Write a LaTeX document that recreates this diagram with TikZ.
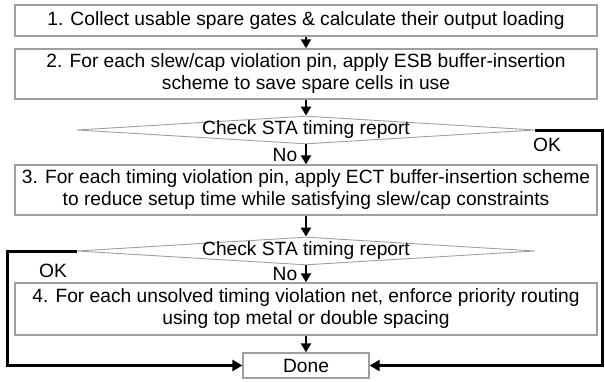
\documentclass[tikz,border=0pt]{standalone}
\usepackage{fontspec}
\setmainfont{Liberation Sans}
\usetikzlibrary{positioning,arrows.meta,shapes.geometric,calc}

\begin{document}
\begin{tikzpicture}[x=1pt, y=-1pt,
  stepbox/.style={draw=gray!75, line width=1.3pt, minimum width=582pt,
                  inner sep=0pt, align=center, font=\fontsize{19.2}{22}\selectfont},
  check/.style={draw=gray!75, line width=0.9pt, diamond, inner sep=0pt,
                minimum width=458pt, minimum height=28pt,
                label={[font=\fontsize{19.2}{22}\selectfont, inner sep=0pt]center:#1}},
  lab/.style={font=\fontsize{19.2}{22}\selectfont, inner sep=0pt},
  arr/.style={-{Triangle[length=9pt, width=10pt]}, line width=2.2pt},
  back/.style={-{Triangle[length=10pt, width=11pt]}, line width=3pt},
]
\useasboundingbox (0,0) rectangle (605,381);
\coordinate (axis) at (306,0);

% main steps
\node[stepbox, minimum height=31pt] (s1) at (306,20.5)
  {1. Collect usable spare gates \& calculate their output loading};
\node[stepbox, minimum height=50pt] (s2) at (306,74)
  {2. For each slew/cap violation pin, apply ESB buffer-insertion\\
   scheme to save spare cells in use};
\node[check={Check STA timing report}] (c1) at (306,130) {};
\node[stepbox, minimum height=50pt] (s3) at (306,190)
  {3. For each timing violation pin, apply ECT buffer-insertion scheme\\
   to reduce setup time while satisfying slew/cap constraints};
\node[check={Check STA timing report}] (c2) at (306,251) {};
\node[stepbox, minimum height=52pt] (s4) at (306,309)
  {4. For each unsolved timing violation net, enforce priority routing\\
   using top metal or double spacing};
\node[stepbox, minimum width=126pt, minimum height=25pt] (done) at (306,365.5) {Done};

% labels on the branches
\node[lab] (no1) at (285,155) {No};
\node[lab] (no2) at (285,274) {No};
\node[lab] (ok1) at (547,145) {OK};
\node[lab] (ok2) at (53,271) {OK};

% flow
\draw[arr] (axis |- s1.south) -- (axis |- s2.north);
\draw[arr] (axis |- s2.south) -- (c1.north);
\draw[arr] (c1.south) -- (axis |- s3.north);
\draw[arr] (axis |- s3.south) -- (c2.north);
\draw[arr] (c2.south) -- (axis |- s4.north);
\draw[arr] (axis |- s4.south) -- (done.north);

% OK branches to Done
\coordinate (rside) at (602,0);
\coordinate (lside) at (7,0);
\draw[back] (c1.east) -| (rside |- done.east) -- (done.east);
\draw[back] (c2.west) -| (lside |- done.west) -- (done.west);
\end{tikzpicture}
\end{document}
